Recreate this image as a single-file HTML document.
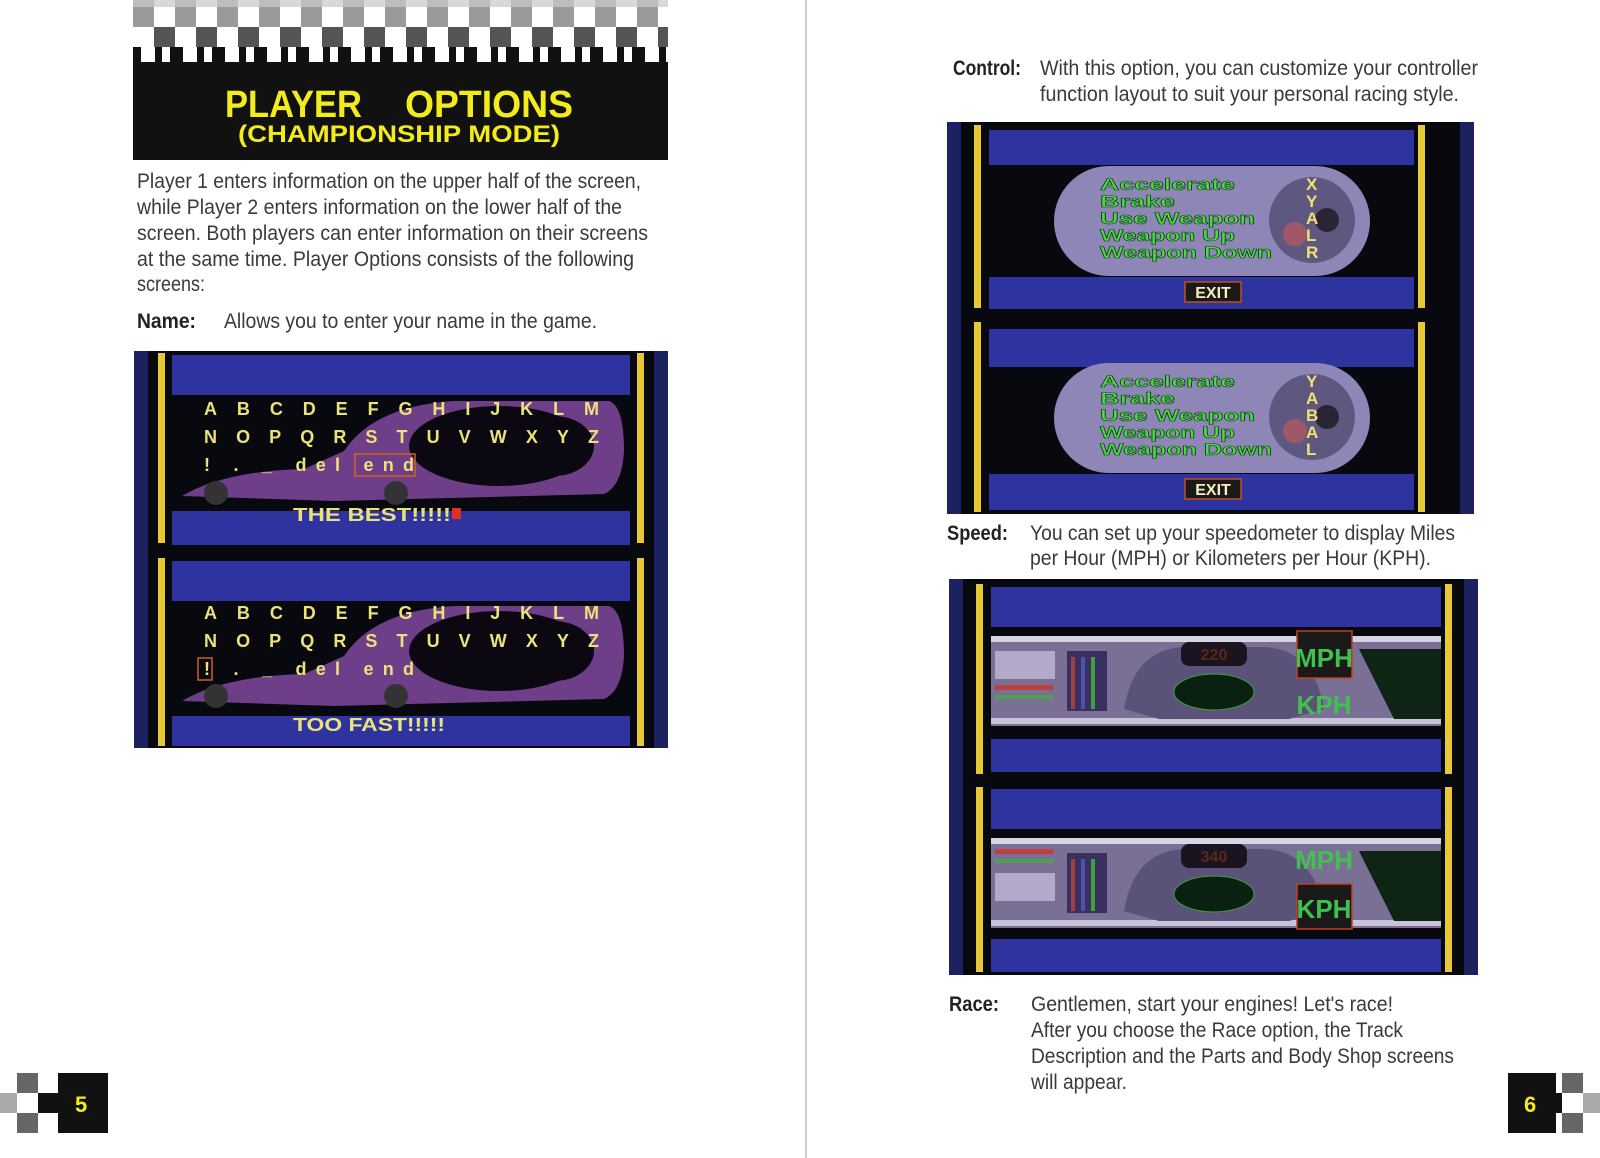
<!DOCTYPE html>
<html><head><meta charset="utf-8"><style>
html,body{margin:0;padding:0;background:#fff;}
svg{display:block;}
</style></head><body>
<svg width="1600" height="1158" viewBox="0 0 1600 1158" xmlns="http://www.w3.org/2000/svg" font-family="Liberation Sans, sans-serif">
<defs>
<pattern id="chk" x="133" y="0" width="42" height="68" patternUnits="userSpaceOnUse">
  <rect x="0" y="0" width="42" height="7" fill="#d8d8d8"/>
  <rect x="0" y="0" width="21" height="7" fill="#bdbdbd"/>
  <rect x="0" y="7" width="42" height="20" fill="#fff"/>
  <rect x="0" y="7" width="21" height="20" fill="#9a9a9a"/>
  <rect x="0" y="27" width="42" height="20" fill="#fff"/>
  <rect x="21" y="27" width="21" height="20" fill="#555"/>
  <rect x="0" y="47" width="42" height="21" fill="#111"/>
  <rect x="8" y="47" width="14" height="15" fill="#fff"/>
  <rect x="29" y="47" width="8" height="15" fill="#fff"/>
</pattern>
</defs>
<rect width="1600" height="1158" fill="#fff"/>
<line x1="806" y1="0" x2="806" y2="1158" stroke="#bbb" stroke-width="1.5"/>

<!-- header -->
<rect x="133" y="0" width="535" height="68" fill="url(#chk)"/>
<rect x="133" y="66" width="535" height="94" fill="#111"/>
<text x="225" y="117" font-size="38" font-weight="bold" fill="#f3ec1d" textLength="137" lengthAdjust="spacingAndGlyphs">PLAYER</text>
<text x="405" y="117" font-size="38" font-weight="bold" fill="#f3ec1d" textLength="168" lengthAdjust="spacingAndGlyphs">OPTIONS</text>
<text x="238" y="142" font-size="24" font-weight="bold" fill="#f3ec1d" textLength="322" lengthAdjust="spacingAndGlyphs">(CHAMPIONSHIP MODE)</text>

<!-- left body text -->
<g font-size="21" fill="#3a3a3a">
<text x="137" y="188" textLength="504" lengthAdjust="spacingAndGlyphs">Player 1 enters information on the upper half of the screen,</text>
<text x="137" y="214" textLength="485" lengthAdjust="spacingAndGlyphs">while Player 2 enters information on the lower half of the</text>
<text x="137" y="240" textLength="511" lengthAdjust="spacingAndGlyphs">screen.  Both players can enter information on their screens</text>
<text x="137" y="266" textLength="497" lengthAdjust="spacingAndGlyphs">at the same time.  Player Options consists of the following</text>
<text x="137" y="291" textLength="68" lengthAdjust="spacingAndGlyphs">screens:</text>
<text x="137" y="328" font-weight="bold" fill="#222" textLength="59" lengthAdjust="spacingAndGlyphs">Name:</text>
<text x="224" y="328" textLength="373" lengthAdjust="spacingAndGlyphs">Allows you to enter your name in the game.</text>
</g>

<!-- right body text -->
<g font-size="21" fill="#3a3a3a">
<text x="953" y="75" font-weight="bold" fill="#222" textLength="68" lengthAdjust="spacingAndGlyphs">Control:</text>
<text x="1040" y="75" textLength="438" lengthAdjust="spacingAndGlyphs">With this option, you can customize your controller</text>
<text x="1040" y="101" textLength="419" lengthAdjust="spacingAndGlyphs">function layout to suit your personal racing style.</text>
<text x="947" y="540" font-weight="bold" fill="#222" textLength="61" lengthAdjust="spacingAndGlyphs">Speed:</text>
<text x="1030" y="540" textLength="425" lengthAdjust="spacingAndGlyphs">You can set up your speedometer to display Miles</text>
<text x="1030" y="565" textLength="401" lengthAdjust="spacingAndGlyphs">per Hour (MPH) or Kilometers per Hour (KPH).</text>
<text x="949" y="1011" font-weight="bold" fill="#222" textLength="50" lengthAdjust="spacingAndGlyphs">Race:</text>
<text x="1031" y="1011" textLength="362" lengthAdjust="spacingAndGlyphs">Gentlemen, start your engines!  Let's race!</text>
<text x="1031" y="1037" textLength="372" lengthAdjust="spacingAndGlyphs">After you choose the Race option, the Track</text>
<text x="1031" y="1063" textLength="423" lengthAdjust="spacingAndGlyphs">Description and the Parts and Body Shop screens</text>
<text x="1031" y="1089" textLength="96" lengthAdjust="spacingAndGlyphs">will appear.</text>
</g>

<!-- page number blocks -->
<rect x="17" y="1073" width="21" height="20" fill="#666"/>
<rect x="0" y="1093" width="17" height="20" fill="#aaa"/>
<rect x="38" y="1093" width="20" height="20" fill="#111"/>
<rect x="17" y="1113" width="21" height="20" fill="#666"/>
<rect x="58" y="1073" width="50" height="60" fill="#111"/>
<text x="75" y="1112" font-size="22" font-weight="bold" fill="#f3ec1d">5</text>

<rect x="1562" y="1073" width="21" height="20" fill="#666"/>
<rect x="1583" y="1093" width="17" height="20" fill="#aaa"/>
<rect x="1542" y="1093" width="20" height="20" fill="#111"/>
<rect x="1562" y="1113" width="21" height="20" fill="#666"/>
<rect x="1508" y="1073" width="48" height="60" fill="#111"/>
<text x="1524" y="1112" font-size="22" font-weight="bold" fill="#f3ec1d">6</text>

<!-- ===== Screen 1 ===== -->
<g transform="translate(134,351)">
  <rect width="534" height="397" fill="#08080f"/>
  <rect x="0" y="0" width="14" height="397" fill="#1c2160"/>
  <rect x="520" y="0" width="14" height="397" fill="#1c2160"/>
  <rect x="24" y="2" width="7" height="190" fill="#e6c935"/>
  <rect x="24" y="207" width="7" height="188" fill="#e6c935"/>
  <rect x="503" y="2" width="7" height="190" fill="#e6c935"/>
  <rect x="503" y="207" width="7" height="188" fill="#e6c935"/>
  <g fill="#2e33a0">
    <rect x="38" y="4" width="458" height="40"/>
    <rect x="38" y="160" width="458" height="34"/>
    <rect x="38" y="210" width="458" height="40"/>
    <rect x="38" y="365" width="458" height="30"/>
  </g>
  <g>
    <path d="M48 145 Q90 120 170 118 L210 100 Q240 55 320 50 L475 50 Q490 55 490 100 Q488 135 470 143 L200 150 Z" fill="#6e3f88"/>
    <ellipse cx="365" cy="95" rx="90" ry="40" fill="#0c0812"/>
    <ellipse cx="420" cy="95" rx="40" ry="30" fill="#0c0812"/>
    <circle cx="82" cy="142" r="12" fill="#333"/>
    <circle cx="262" cy="142" r="12" fill="#333"/>
    <path d="M48 350 Q90 325 170 323 L210 305 Q240 260 320 255 L475 255 Q490 260 490 305 Q488 340 470 348 L200 355 Z" fill="#6e3f88"/>
    <ellipse cx="365" cy="300" rx="90" ry="40" fill="#0c0812"/>
    <ellipse cx="420" cy="300" rx="40" ry="30" fill="#0c0812"/>
    <circle cx="82" cy="345" r="12" fill="#333"/>
    <circle cx="262" cy="345" r="12" fill="#333"/>
  </g>
  <g font-family="Liberation Sans, sans-serif" font-weight="bold" font-size="18" fill="#ece27a">
    <text x="70" y="64" textLength="395" lengthAdjust="spacing">ABCDEFGHIJKLM</text>
    <text x="70" y="92" textLength="395" lengthAdjust="spacing">NOPQRSTUVWXYZ</text>
    <text x="70" y="120" textLength="210" lengthAdjust="spacing">!  .  _  del  end</text>
    <rect x="221" y="103" width="60" height="22" fill="none" stroke="#d06020" stroke-width="1.5"/>
    <text x="159" y="170" textLength="158" lengthAdjust="spacingAndGlyphs">THE BEST!!!!!</text>
    <rect x="318" y="157" width="9" height="11" fill="#e03020"/>
    <text x="70" y="268" textLength="395" lengthAdjust="spacing">ABCDEFGHIJKLM</text>
    <text x="70" y="296" textLength="395" lengthAdjust="spacing">NOPQRSTUVWXYZ</text>
    <text x="70" y="324" textLength="210" lengthAdjust="spacing">!  .  _  del  end</text>
    <rect x="64" y="307" width="14" height="22" fill="none" stroke="#d06020" stroke-width="1.5"/>
    <text x="159" y="380" textLength="152" lengthAdjust="spacingAndGlyphs">TOO FAST!!!!!</text>
  </g>
</g>

<!-- ===== Screen 2 (controllers) ===== -->
<g transform="translate(947,122)">
  <rect width="527" height="392" fill="#08080f"/>
  <rect x="0" y="0" width="14" height="392" fill="#1c2160"/>
  <rect x="513" y="0" width="14" height="392" fill="#1c2160"/>
  <rect x="27" y="3" width="7" height="183" fill="#e6c935"/>
  <rect x="27" y="200" width="7" height="190" fill="#e6c935"/>
  <rect x="471" y="3" width="7" height="183" fill="#e6c935"/>
  <rect x="471" y="200" width="7" height="190" fill="#e6c935"/>
  <g fill="#2e33a0">
    <rect x="42" y="8" width="425" height="35"/>
    <rect x="42" y="155" width="425" height="32"/>
    <rect x="42" y="207" width="425" height="38"/>
    <rect x="42" y="352" width="425" height="36"/>
  </g>
  <g>
    <rect x="107" y="44" width="316" height="110" rx="55" fill="#8e86b6"/>
    <circle cx="365" cy="98" r="43" fill="#5e5880"/>
    <circle cx="348" cy="112" r="12" fill="#a05868"/>
    <circle cx="380" cy="98" r="12" fill="#2a2535"/>
    <rect x="107" y="241" width="316" height="110" rx="55" fill="#8e86b6"/>
    <circle cx="365" cy="295" r="43" fill="#5e5880"/>
    <circle cx="348" cy="309" r="12" fill="#a05868"/>
    <circle cx="380" cy="295" r="12" fill="#2a2535"/>
  </g>
  <g font-family="Liberation Sans, sans-serif" font-weight="bold" font-size="17" fill="#4cd848" stroke="#0a3a0a" stroke-width="0.6">
    <text x="153" y="68" textLength="135" lengthAdjust="spacingAndGlyphs">Accelerate</text>
    <text x="153" y="85" textLength="75" lengthAdjust="spacingAndGlyphs">Brake</text>
    <text x="153" y="102" textLength="155" lengthAdjust="spacingAndGlyphs">Use Weapon</text>
    <text x="153" y="119" textLength="135" lengthAdjust="spacingAndGlyphs">Weapon Up</text>
    <text x="153" y="136" textLength="172" lengthAdjust="spacingAndGlyphs">Weapon Down</text>
    <text x="153" y="265" textLength="135" lengthAdjust="spacingAndGlyphs">Accelerate</text>
    <text x="153" y="282" textLength="75" lengthAdjust="spacingAndGlyphs">Brake</text>
    <text x="153" y="299" textLength="155" lengthAdjust="spacingAndGlyphs">Use Weapon</text>
    <text x="153" y="316" textLength="135" lengthAdjust="spacingAndGlyphs">Weapon Up</text>
    <text x="153" y="333" textLength="172" lengthAdjust="spacingAndGlyphs">Weapon Down</text>
  </g>
  <g font-family="Liberation Sans, sans-serif" font-weight="bold" font-size="17" fill="#f0e070">
    <text x="359" y="68">X</text><text x="359" y="85">Y</text><text x="359" y="102">A</text><text x="359" y="119">L</text><text x="359" y="136">R</text>
    <text x="359" y="265">Y</text><text x="359" y="282">A</text><text x="359" y="299">B</text><text x="359" y="316">A</text><text x="359" y="333">L</text>
  </g>
  <g>
    <rect x="238" y="160" width="56" height="20" fill="#1a1a1a" stroke="#c05020" stroke-width="1.5"/>
    <text x="266" y="176" text-anchor="middle" font-weight="bold" font-size="16" fill="#f5f0c0">EXIT</text>
    <rect x="238" y="357" width="56" height="20" fill="#1a1a1a" stroke="#c05020" stroke-width="1.5"/>
    <text x="266" y="373" text-anchor="middle" font-weight="bold" font-size="16" fill="#f5f0c0">EXIT</text>
  </g>
</g>

<!-- ===== Screen 3 (speedometer) ===== -->
<g transform="translate(949,579)">
  <rect width="529" height="396" fill="#08080f"/>
  <rect x="0" y="0" width="14" height="396" fill="#1c2160"/>
  <rect x="515" y="0" width="14" height="396" fill="#1c2160"/>
  <rect x="27" y="5" width="7" height="190" fill="#e6c935"/>
  <rect x="27" y="208" width="7" height="185" fill="#e6c935"/>
  <rect x="496" y="5" width="7" height="190" fill="#e6c935"/>
  <rect x="496" y="208" width="7" height="185" fill="#e6c935"/>
  <g fill="#2e33a0">
    <rect x="42" y="8" width="450" height="40"/>
    <rect x="42" y="160" width="450" height="33"/>
    <rect x="42" y="210" width="450" height="40"/>
    <rect x="42" y="360" width="450" height="33"/>
  </g>
  <g>
    <rect x="42" y="57" width="450" height="90" fill="#7a7096"/>
    <rect x="42" y="57" width="450" height="6" fill="#d8d4e4"/>
    <rect x="42" y="139" width="450" height="6" fill="#c8c4d8"/>
    <rect x="46" y="72" width="60" height="28" fill="#b2aac8"/>
    <rect x="46" y="106" width="58" height="5" fill="#c04040"/>
    <rect x="46" y="116" width="58" height="4" fill="#50a050"/>
    <rect x="118" y="72" width="40" height="60" fill="#3a3060"/>
    <rect x="122" y="78" width="4" height="52" fill="#a04040"/>
    <rect x="132" y="78" width="4" height="52" fill="#5050b0"/>
    <rect x="142" y="78" width="4" height="52" fill="#40a040"/>
    <path d="M175 130 Q185 70 235 68 L315 68 Q365 70 375 130 L340 140 L210 140 Z" fill="#5a5278"/>
    <rect x="232" y="63" width="66" height="24" rx="8" fill="#1a1420"/>
    <text x="265" y="81" text-anchor="middle" font-size="16" font-weight="bold" fill="#5a2818">220</text>
    <ellipse cx="265" cy="113" rx="40" ry="18" fill="#0a2010" stroke="#40a040"/>
    <rect x="348" y="52" width="55" height="47" fill="#1a1a1a" stroke="#c04020" stroke-width="1.5"/>
    <text x="375" y="88" text-anchor="middle" font-size="26" font-weight="bold" fill="#40c050">MPH</text>
    <text x="375" y="135" text-anchor="middle" font-size="26" font-weight="bold" fill="#40c050">KPH</text>
    <path d="M410 70 L492 70 L492 140 L445 140 Z" fill="#0e2414"/>
  </g>
  <g transform="translate(0,202)">
    <rect x="42" y="57" width="450" height="90" fill="#7a7096"/>
    <rect x="42" y="57" width="450" height="6" fill="#d8d4e4"/>
    <rect x="42" y="139" width="450" height="6" fill="#c8c4d8"/>
    <rect x="46" y="68" width="58" height="5" fill="#c04040"/>
    <rect x="46" y="78" width="58" height="4" fill="#50a050"/>
    <rect x="46" y="92" width="60" height="28" fill="#b2aac8"/>
    <rect x="118" y="72" width="40" height="60" fill="#3a3060"/>
    <rect x="122" y="78" width="4" height="52" fill="#a04040"/>
    <rect x="132" y="78" width="4" height="52" fill="#5050b0"/>
    <rect x="142" y="78" width="4" height="52" fill="#40a040"/>
    <path d="M175 130 Q185 70 235 68 L315 68 Q365 70 375 130 L340 140 L210 140 Z" fill="#5a5278"/>
    <rect x="232" y="63" width="66" height="24" rx="8" fill="#1a1420"/>
    <text x="265" y="81" text-anchor="middle" font-size="16" font-weight="bold" fill="#5a2818">340</text>
    <ellipse cx="265" cy="113" rx="40" ry="18" fill="#0a2010" stroke="#40a040"/>
    <text x="375" y="88" text-anchor="middle" font-size="26" font-weight="bold" fill="#40c050">MPH</text>
    <rect x="348" y="103" width="55" height="45" fill="#1a1a1a" stroke="#c04020" stroke-width="1.5"/>
    <text x="375" y="137" text-anchor="middle" font-size="26" font-weight="bold" fill="#40c050">KPH</text>
    <path d="M410 70 L492 70 L492 140 L445 140 Z" fill="#0e2414"/>
  </g>
</g>
</svg>
</body></html>
